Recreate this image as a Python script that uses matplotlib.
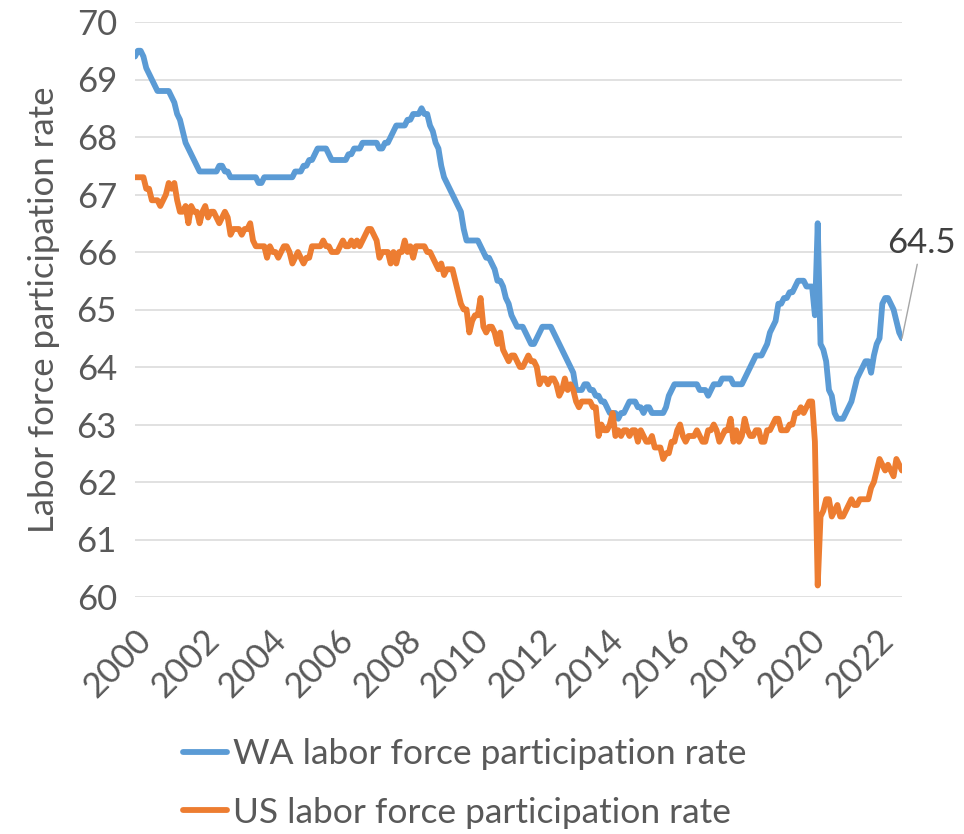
import numpy as np
import matplotlib
matplotlib.use('Agg')
from matplotlib import pyplot as plt
from matplotlib import transforms

# monthly values, Jan 2000 - Oct 2022 (one row per year)
wa_rate = [
    69.4, 69.5, 69.5, 69.4, 69.2, 69.1, 69.0, 68.9, 68.8, 68.8, 68.8, 68.8,  # 2000
    68.8, 68.7, 68.6, 68.4, 68.3, 68.1, 67.9, 67.8, 67.7, 67.6, 67.5, 67.4,  # 2001
    67.4, 67.4, 67.4, 67.4, 67.4, 67.4, 67.5, 67.5, 67.4, 67.4, 67.3, 67.3,  # 2002
    67.3, 67.3, 67.3, 67.3, 67.3, 67.3, 67.3, 67.3, 67.2, 67.2, 67.3, 67.3,  # 2003
    67.3, 67.3, 67.3, 67.3, 67.3, 67.3, 67.3, 67.3, 67.3, 67.4, 67.4, 67.4,  # 2004
    67.5, 67.5, 67.6, 67.6, 67.7, 67.8, 67.8, 67.8, 67.8, 67.7, 67.6, 67.6,  # 2005
    67.6, 67.6, 67.6, 67.6, 67.7, 67.7, 67.8, 67.8, 67.8, 67.9, 67.9, 67.9,  # 2006
    67.9, 67.9, 67.9, 67.8, 67.8, 67.9, 67.9, 68.0, 68.1, 68.2, 68.2, 68.2,  # 2007
    68.2, 68.3, 68.3, 68.4, 68.4, 68.4, 68.5, 68.4, 68.4, 68.2, 68.1, 67.9,  # 2008
    67.8, 67.5, 67.3, 67.2, 67.1, 67.0, 66.9, 66.8, 66.7, 66.4, 66.2, 66.2,  # 2009
    66.2, 66.2, 66.2, 66.1, 66.0, 65.9, 65.9, 65.8, 65.7, 65.5, 65.5, 65.4,  # 2010
    65.2, 65.1, 64.9, 64.8, 64.7, 64.7, 64.7, 64.6, 64.5, 64.4, 64.4, 64.5,  # 2011
    64.6, 64.7, 64.7, 64.7, 64.7, 64.6, 64.5, 64.4, 64.3, 64.2, 64.1, 64.0,  # 2012
    63.9, 63.6, 63.6, 63.6, 63.7, 63.7, 63.6, 63.6, 63.5, 63.5, 63.4, 63.4,  # 2013
    63.3, 63.2, 63.2, 63.2, 63.1, 63.2, 63.2, 63.3, 63.4, 63.4, 63.4, 63.3,  # 2014
    63.3, 63.2, 63.3, 63.3, 63.2, 63.2, 63.2, 63.2, 63.2, 63.3, 63.5, 63.6,  # 2015
    63.7, 63.7, 63.7, 63.7, 63.7, 63.7, 63.7, 63.7, 63.7, 63.6, 63.6, 63.6,  # 2016
    63.5, 63.6, 63.7, 63.7, 63.7, 63.8, 63.8, 63.8, 63.8, 63.7, 63.7, 63.7,  # 2017
    63.7, 63.8, 63.9, 64.0, 64.1, 64.2, 64.2, 64.2, 64.3, 64.4, 64.6, 64.7,  # 2018
    64.8, 65.1, 65.1, 65.2, 65.2, 65.3, 65.3, 65.4, 65.5, 65.5, 65.5, 65.4,  # 2019
    65.4, 65.4, 64.9, 66.5, 64.4, 64.3, 64.1, 63.6, 63.5, 63.2, 63.1, 63.1,  # 2020
    63.1, 63.2, 63.3, 63.4, 63.6, 63.8, 63.9, 64.0, 64.1, 64.1, 63.9, 64.2,  # 2021
    64.4, 64.5, 65.1, 65.2, 65.2, 65.1, 65.0, 64.8, 64.6, 64.5,              # 2022
]

us_rate = [
    67.3, 67.3, 67.3, 67.3, 67.1, 67.1, 66.9, 66.9, 66.9, 66.8, 66.9, 67.0,  # 2000
    67.2, 67.1, 67.2, 66.9, 66.7, 66.7, 66.8, 66.5, 66.8, 66.7, 66.7, 66.5,  # 2001
    66.7, 66.8, 66.6, 66.7, 66.7, 66.6, 66.5, 66.6, 66.7, 66.6, 66.3, 66.4,  # 2002
    66.4, 66.4, 66.3, 66.4, 66.4, 66.5, 66.2, 66.1, 66.1, 66.1, 66.1, 65.9,  # 2003
    66.1, 66.0, 66.0, 65.9, 66.0, 66.1, 66.1, 66.0, 65.8, 65.9, 66.0, 65.9,  # 2004
    65.8, 65.9, 65.9, 66.1, 66.1, 66.1, 66.1, 66.2, 66.1, 66.1, 66.0, 66.0,  # 2005
    66.0, 66.1, 66.2, 66.1, 66.1, 66.2, 66.1, 66.2, 66.1, 66.2, 66.3, 66.4,  # 2006
    66.4, 66.3, 66.2, 65.9, 66.0, 66.0, 66.0, 65.8, 66.0, 65.8, 66.0, 66.0,  # 2007
    66.2, 66.0, 66.1, 65.9, 66.1, 66.1, 66.1, 66.1, 66.0, 66.0, 65.9, 65.8,  # 2008
    65.7, 65.8, 65.6, 65.7, 65.7, 65.7, 65.5, 65.3, 65.1, 65.0, 65.0, 64.6,  # 2009
    64.8, 64.9, 64.9, 65.2, 64.7, 64.6, 64.7, 64.7, 64.6, 64.4, 64.6, 64.3,  # 2010
    64.2, 64.1, 64.2, 64.2, 64.1, 64.0, 64.0, 64.1, 64.2, 64.1, 64.1, 64.0,  # 2011
    63.7, 63.8, 63.8, 63.7, 63.8, 63.8, 63.7, 63.5, 63.6, 63.8, 63.6, 63.7,  # 2012
    63.6, 63.4, 63.3, 63.4, 63.4, 63.4, 63.4, 63.3, 63.3, 62.8, 63.0, 62.9,  # 2013
    62.9, 63.0, 63.2, 62.8, 62.9, 62.8, 62.9, 62.9, 62.8, 62.9, 62.9, 62.7,  # 2014
    62.9, 62.8, 62.7, 62.7, 62.8, 62.6, 62.6, 62.6, 62.4, 62.5, 62.5, 62.7,  # 2015
    62.7, 62.9, 63.0, 62.8, 62.7, 62.8, 62.8, 62.8, 62.9, 62.8, 62.7, 62.7,  # 2016
    62.9, 62.9, 63.0, 62.9, 62.7, 62.8, 62.9, 62.9, 63.1, 62.7, 62.9, 62.7,  # 2017
    62.8, 63.1, 62.9, 62.8, 62.8, 62.9, 62.9, 62.7, 62.7, 62.9, 62.9, 63.0,  # 2018
    63.1, 63.1, 62.9, 62.9, 62.9, 63.0, 63.0, 63.2, 63.2, 63.3, 63.2, 63.3,  # 2019
    63.4, 63.4, 62.7, 60.2, 61.4, 61.5, 61.7, 61.7, 61.4, 61.5, 61.6, 61.4,  # 2020
    61.4, 61.5, 61.6, 61.7, 61.6, 61.6, 61.7, 61.7, 61.7, 61.7, 61.9, 62.0,  # 2021
    62.2, 62.4, 62.3, 62.2, 62.3, 62.2, 62.1, 62.4, 62.3, 62.2,              # 2022
]

years = list(range(2000, 2023, 2))
wa_label = 'WA labor force participation rate'
us_label = 'US labor force participation rate'
end_label = '64.5'

BLUE = '#5B9BD5'
ORANGE = '#ED7D31'
GREY_TXT = '#595959'

plt.rcParams['font.family'] = ['Lato', 'DejaVu Sans']

fig = plt.figure(figsize=(9.64, 8.34), dpi=100)
W, H = 964, 834
# plot area in pixels: left 135, right 902, top 22, bottom 597
ax = fig.add_axes([135 / W, 1 - 597 / H, (902 - 135) / W, (597 - 22) / H])

x = np.arange(len(wa_rate))
ax.plot(x, wa_rate, color=BLUE, lw=4.2, solid_joinstyle='round', solid_capstyle='round',
        label=wa_label, zorder=3)
ax.plot(x, us_rate, color=ORANGE, lw=4.2, solid_joinstyle='round', solid_capstyle='round',
        label=us_label, zorder=3)

ax.set_xlim(0, len(wa_rate) - 1)
ax.set_ylim(60, 70)
ax.set_yticks(range(60, 71))
ax.set_xticks([(y - 2000) * 12 for y in years])
ax.set_xticklabels([str(y) for y in years], rotation=45, ha='right', va='top',
                   rotation_mode='anchor')
# nudge rotated year labels a little to the left
shift = transforms.ScaledTranslation(-0.06, 0, fig.dpi_scale_trans)
for lab in ax.get_xticklabels():
    lab.set_transform(lab.get_transform() + shift)
ax.grid(axis='y', color='#D9D9D9', lw=1.1, zorder=0)
ax.grid(axis='x', visible=False)
for s in ax.spines.values():
    s.set_visible(False)
ax.tick_params(axis='both', length=0, labelsize=25, labelcolor=GREY_TXT)
ax.tick_params(axis='y', pad=13)
ax.tick_params(axis='x', pad=19)
ax.set_ylabel('Labor force participation rate', fontsize=25, color=GREY_TXT, labelpad=12)

# end-of-series data label with leader line
ax.annotate(end_label, xy=(x[-1], wa_rate[-1]), xytext=(280, 66.16), textcoords='data',
            ha='center', va='center', fontsize=25, color='#404040', annotation_clip=False,
            arrowprops=dict(arrowstyle='-', color='#A6A6A6', lw=1.0, shrinkA=2, shrinkB=0))

fig.legend(loc='upper left', bbox_to_anchor=(183 / W, 1 - 738 / H), frameon=False,
           fontsize=25.5, labelcolor=GREY_TXT, handlelength=1.25, handletextpad=0.15,
           borderpad=0, borderaxespad=0, labelspacing=0.75)

fig.savefig('out.png', dpi=100)
